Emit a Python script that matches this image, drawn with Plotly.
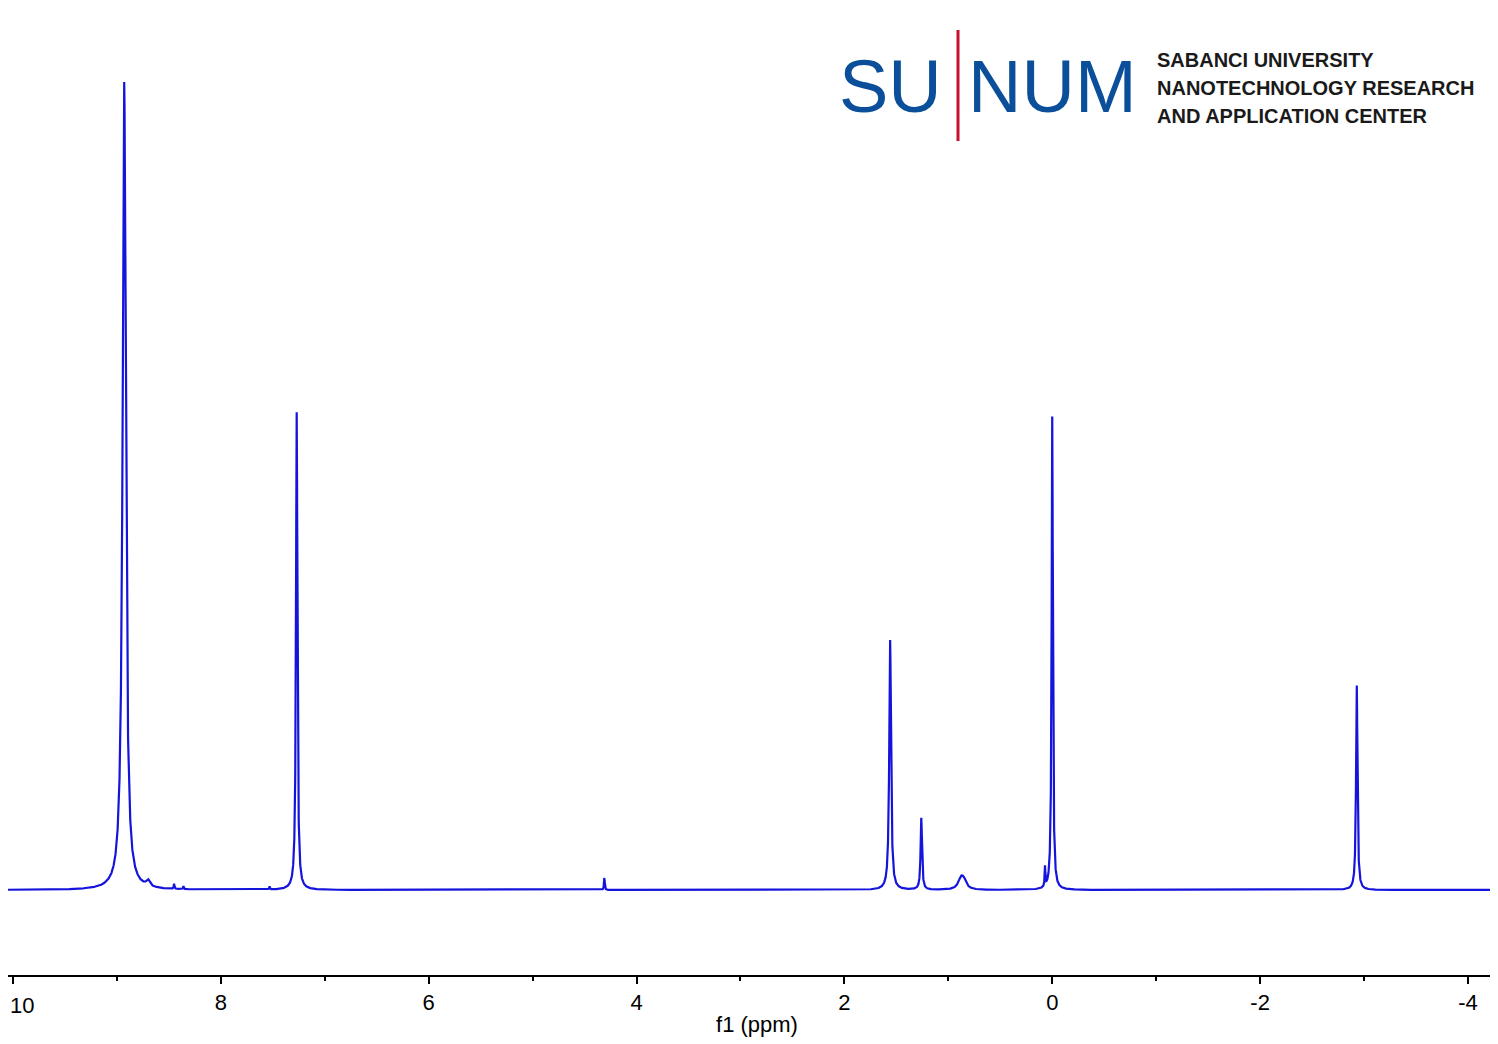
import numpy as np
import plotly.graph_objects as go

# peaks: shift (ppm), height, half width (ppm)
peak_ppm = [8.93, 8.70, 8.45, 8.36, 7.53, 7.27, 4.31, 1.56, 1.26, 0.88, 0.85, 0.07, 0.00, -2.93]
peak_height = [808, 6, 5, 3, 3, 478, 12, 250, 72, 10, 8, 20, 474, 205]
peak_width = [0.018, 0.02, 0.004, 0.004, 0.004, 0.008, 0.004, 0.010, 0.008, 0.03, 0.03, 0.004, 0.007, 0.008]

tick_vals = [10, 8, 6, 4, 2, 0, -2, -4]
tick_text = ["10", "8", "6", "4", "2", "0", "-2", "-4"]

ppm = np.linspace(10.1, -4.4, 20000)
intensity = np.zeros_like(ppm)
for c, h, w in zip(peak_ppm, peak_height, peak_width):
    intensity += h * w**2 / ((ppm - c)**2 + w**2)

fig = go.Figure(go.Scatter(x=ppm, y=intensity, mode="lines",
                           line=dict(color="#1414dc", width=2.2), hoverinfo="skip"))

fig.update_layout(
    width=1498, height=1044, margin=dict(l=0, r=0, t=0, b=77),
    paper_bgcolor="white", plot_bgcolor="white", showlegend=False,
    font=dict(family="Liberation Sans, Arial", color="black", size=22),
    xaxis=dict(range=[10.048, -4.366], showgrid=False, zeroline=False,
               showline=True, linecolor="black", linewidth=2,
               tickvals=tick_vals, ticktext=tick_text, ticks="outside", ticklen=7,
               tickwidth=2, tickcolor="black",
               minor=dict(tickvals=[9, 7, 5, 3, 1, -1, -3], ticks="outside",
                          ticklen=4, tickwidth=2, tickcolor="black"),
               title=dict(text="f1 (ppm)", standoff=2, font=dict(size=22))),
    yaxis=dict(range=[-85, 882], visible=False),
)

# plotly drops the edge label "10", so place it by hand at the left edge
fig.add_annotation(text=tick_text[0], x=0, xref="paper", xanchor="left", yref="paper", y=0,
                   yshift=-16, yanchor="top", showarrow=False, font=dict(size=22))


def px(x):
    return (x - 8) / 1498


def py(y):
    return (975 - y) / 967


blue = "#0b4f9a"
logo_font = dict(family="Liberation Sans, Arial", size=74, color=blue)
fig.add_annotation(text="SU", xref="paper", yref="paper", x=px(944), y=py(86),
                   xanchor="right", yanchor="middle", showarrow=False, font=logo_font)
fig.add_annotation(text="NUM", xref="paper", yref="paper", x=px(966), y=py(86),
                   xanchor="left", yanchor="middle", showarrow=False, font=logo_font)
fig.add_shape(type="line", xref="paper", yref="paper", x0=px(958), x1=px(958),
              y0=py(30), y1=py(141), line=dict(color="#c8102e", width=3))
for i, line in enumerate(["SABANCI UNIVERSITY", "NANOTECHNOLOGY RESEARCH",
                          "AND APPLICATION CENTER"]):
    fig.add_annotation(text="<b>" + line + "</b>", xref="paper", yref="paper",
                       x=px(1155), y=py(60 + 28 * i),
                       xanchor="left", yanchor="middle", showarrow=False,
                       font=dict(family="Liberation Sans, Arial", size=20, color="#1a1a1a"))

fig.write_html("out.html")
